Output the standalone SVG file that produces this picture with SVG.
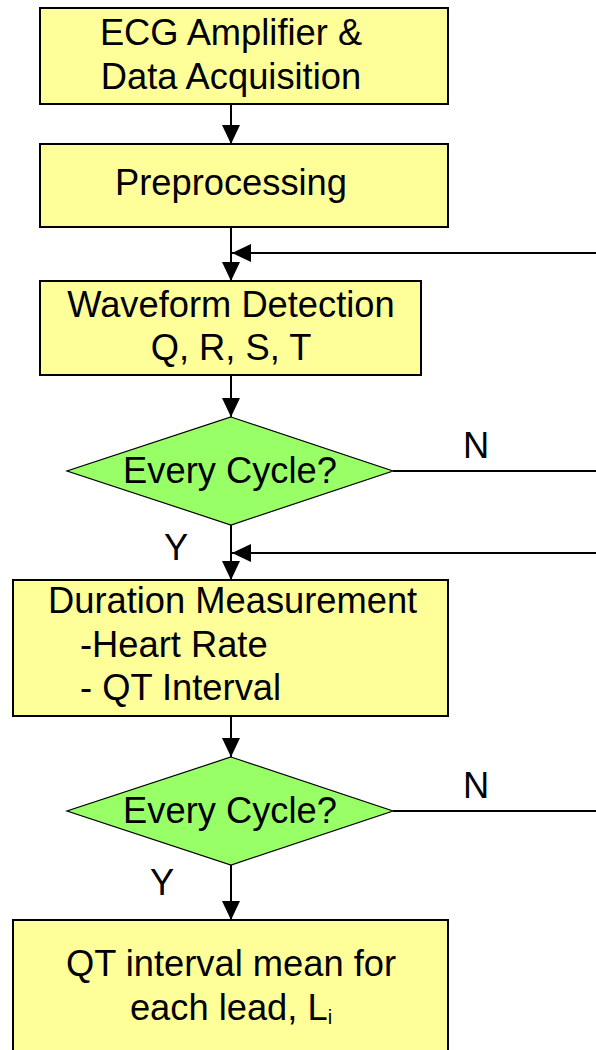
<svg xmlns="http://www.w3.org/2000/svg" width="596" height="1050" viewBox="0 0 596 1050">
<style>
.box{fill:#FFFF99;stroke:#000;stroke-width:2}
.dia{fill:#99FF66;stroke:#000;stroke-width:1.2}
.t{font-family:"Liberation Sans",Arial,sans-serif;font-size:36.3px;fill:#000}
.c{text-anchor:middle}
.ln{stroke:#000;stroke-width:2;fill:none}
</style>
<defs>
<marker id="ah" markerUnits="userSpaceOnUse" markerWidth="19" markerHeight="18" refX="19" refY="9" orient="auto">
<path d="M0,0 L19,9 L0,18 z" fill="#000"/>
</marker>
</defs>
<rect width="596" height="1050" fill="#fff"/>
<g id="connectors">
<line class="ln" x1="231" y1="104" x2="231" y2="144" marker-end="url(#ah)"/>
<line class="ln" x1="231" y1="227" x2="231" y2="281" marker-end="url(#ah)"/>
<line class="ln" x1="596" y1="253" x2="232" y2="253" marker-end="url(#ah)"/>
<line class="ln" x1="231" y1="375" x2="231" y2="417" marker-end="url(#ah)"/>
<line class="ln" x1="393" y1="471" x2="596" y2="471"/>
<line class="ln" x1="231" y1="525" x2="231" y2="580" marker-end="url(#ah)"/>
<line class="ln" x1="596" y1="553" x2="232" y2="553" marker-end="url(#ah)"/>
<line class="ln" x1="231" y1="716" x2="231" y2="757" marker-end="url(#ah)"/>
<line class="ln" x1="393" y1="811" x2="596" y2="811"/>
<line class="ln" x1="231" y1="865" x2="231" y2="920" marker-end="url(#ah)"/>
<text class="t c" x="476" y="458">N</text>
<text class="t c" x="176" y="560">Y</text>
<text class="t c" x="476" y="798">N</text>
<text class="t c" x="162" y="895">Y</text>
</g>
<g id="ecg">
<rect class="box" x="40" y="8" width="408" height="96"/>
<text class="t c" x="231" y="45">ECG Amplifier &amp;</text>
<text class="t c" x="231" y="89">Data Acquisition</text>
</g>
<g id="preprocessing">
<rect class="box" x="40" y="144" width="408" height="83"/>
<text class="t c" x="231" y="195">Preprocessing</text>
</g>
<g id="waveform">
<rect class="box" x="40" y="281" width="381" height="94"/>
<text class="t c" x="231" y="317">Waveform Detection</text>
<text class="t c" x="231" y="360">Q, R, S, T</text>
</g>
<g id="decision1">
<polygon class="dia" points="231,417 393,471 231,525 67,471"/>
<text class="t c" x="230" y="483">Every Cycle?</text>
</g>
<g id="duration">
<rect class="box" x="13" y="580" width="435" height="136"/>
<text class="t" x="48" y="613">Duration Measurement</text>
<text class="t" x="80" y="657">-Heart Rate</text>
<text class="t" x="80" y="700">- QT Interval</text>
</g>
<g id="decision2">
<polygon class="dia" points="231,757 393,811 231,865 67,811"/>
<text class="t c" x="230" y="823">Every Cycle?</text>
</g>
<g id="qtmean">
<rect class="box" x="13" y="920" width="435" height="140"/>
<text class="t c" x="231" y="976">QT interval mean for</text>
<text class="t c" x="231" y="1020">each lead, L<tspan font-size="20" dy="4">i</tspan></text>
</g>
</svg>
